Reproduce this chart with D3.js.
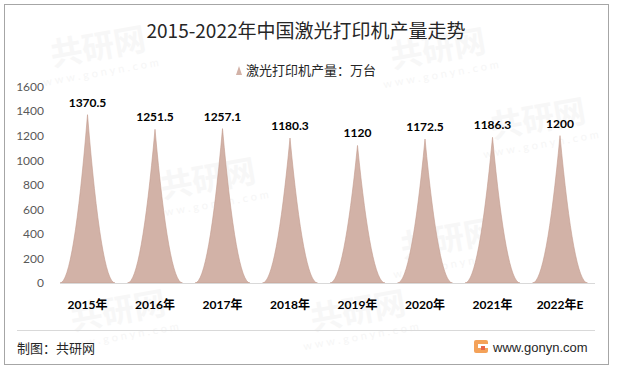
<!DOCTYPE html>
<html>
<head>
<meta charset="utf-8">
<script src="https://cdn.jsdelivr.net/npm/d3@7"></script>
<style>
  body { margin: 0; background: #fff; }
  svg { display: block; }
</style>
</head>
<body>
<div id="chart"></div>
<script>
// chart data
var years = ["2015年", "2016年", "2017年", "2018年", "2019年", "2020年", "2021年", "2022年E"];
var output = [1370.5, 1251.5, 1257.1, 1180.3, 1120, 1172.5, 1186.3, 1200];
var yTicks = [0, 200, 400, 600, 800, 1000, 1200, 1400, 1600];
var titleText = "2015-2022年中国激光打印机产量走势";
var legendText = "激光打印机产量：万台";

var width = 617, height = 373;
var numFont = "Lato, 'Noto Sans CJK SC', sans-serif";
var cjkFont = "'Noto Sans CJK SC', sans-serif";
var fill = "#d2b2a7", edge = "#c39a8d";

var svg = d3.select("#chart").append("svg")
  .attr("width", width)
  .attr("height", height);

// outer frame
svg.append("rect")
  .attr("x", 4.5).attr("y", 4.5)
  .attr("width", 604).attr("height", 360)
  .attr("fill", "#fff")
  .attr("stroke", "#a6a6a6");

// faint watermarks
var marks = [[100, 58], [440, 60], [210, 190], [450, 250], [120, 322], [540, 130], [360, 322]];
marks.forEach(function(m) {
  var g = svg.append("g").attr("transform", "translate(" + m[0] + "," + m[1] + ") rotate(-10)");
  g.append("text").attr("font-family", cjkFont).attr("font-size", 32).attr("font-weight", "bold")
    .attr("fill", "#f7f7f7").attr("text-anchor", "middle").text("共研网");
  g.append("text").attr("y", 18).attr("font-family", numFont).attr("font-size", 11)
    .attr("letter-spacing", 3).attr("fill", "#f6f6f6").attr("text-anchor", "middle").text("www.gonyn.com");
});

// title + legend
svg.append("text")
  .attr("x", 306).attr("y", 38)
  .attr("text-anchor", "middle")
  .attr("font-family", cjkFont)
  .attr("font-size", 19)
  .attr("fill", "#262626")
  .text(titleText);

svg.append("path")
  .attr("d", "M236,75 L239,66 L242,75 Z")
  .attr("fill", fill);

svg.append("text")
  .attr("x", 246).attr("y", 75)
  .attr("font-family", cjkFont)
  .attr("font-size", 13)
  .attr("fill", "#262626")
  .text(legendText);

// scales
var x = d3.scaleBand()
  .domain(years)
  .range([53.75, 593.75])
  .padding(0);

var y = d3.scaleLinear()
  .domain([0, 1600])
  .range([283, 86.5]);

// y axis labels
var yAxis = d3.axisLeft(y).tickValues(yTicks).tickFormat(d3.format("d")).tickSize(0).tickPadding(0);
var yg = svg.append("g").attr("transform", "translate(44,0)").call(yAxis);
yg.select(".domain").remove();
yg.selectAll("text")
  .attr("font-family", numFont)
  .attr("font-size", 12)
  .attr("fill", "#595959");

// spikes
var hw = 27.5;
svg.selectAll("path.spike")
  .data(output)
  .enter().append("path")
  .attr("class", "spike")
  .attr("d", function(d, i) {
    var cx = x(years[i]) + x.bandwidth() / 2;
    var base = y(0), top = y(d);
    return "M" + (cx - hw) + "," + base +
      " Q" + (cx - hw / 2) + "," + base + " " + cx + "," + top +
      " Q" + (cx + hw / 2) + "," + base + " " + (cx + hw) + "," + base + " Z";
  })
  .attr("fill", fill)
  .attr("stroke", edge)
  .attr("stroke-width", 0.6);

// x axis line + labels
var xAxis = d3.axisBottom(x).tickSize(0).tickPadding(0);
var xg = svg.append("g").attr("transform", "translate(0,283)").call(xAxis);
xg.select(".domain").remove();
svg.append("line")
  .attr("x1", 60).attr("x2", 595)
  .attr("y1", 283.5).attr("y2", 283.5)
  .attr("stroke", "#d9d9d9");
xg.selectAll("text")
  .attr("y", 26)
  .attr("dy", 0)
  .attr("font-family", numFont)
  .attr("font-size", 12)
  .attr("font-weight", "bold")
  .attr("fill", "#000");

// value labels
svg.selectAll("text.val")
  .data(output)
  .enter().append("text")
  .attr("class", "val")
  .attr("x", function(d, i) { return x(years[i]) + x.bandwidth() / 2; })
  .attr("y", function(d) { return y(d) - 8; })
  .attr("text-anchor", "middle")
  .attr("font-family", numFont)
  .attr("font-size", 12)
  .attr("font-weight", "bold")
  .attr("fill", "#000")
  .text(function(d) { return d; });

// footer
svg.append("line")
  .attr("x1", 17).attr("x2", 595)
  .attr("y1", 330.5).attr("y2", 330.5)
  .attr("stroke", "#d9d9d9");

svg.append("text")
  .attr("x", 17).attr("y", 353)
  .attr("font-family", cjkFont)
  .attr("font-size", 13)
  .attr("fill", "#262626")
  .text("制图：共研网");

var logo = svg.append("g").attr("transform", "translate(474,340)");
logo.append("rect").attr("width", 14).attr("height", 13).attr("rx", 2).attr("fill", "#f4a259");
logo.append("rect").attr("x", 4).attr("y", 4).attr("width", 10).attr("height", 4).attr("fill", "#fff");
logo.append("rect").attr("x", 7).attr("y", 6).attr("width", 4).attr("height", 4).attr("fill", "#e8664a");

svg.append("text")
  .attr("x", 493).attr("y", 352)
  .attr("font-family", "'Liberation Sans', Arial, sans-serif")
  .attr("font-size", 13)
  .attr("fill", "#262626")
  .text("www.gonyn.com");
</script>
</body>
</html>
